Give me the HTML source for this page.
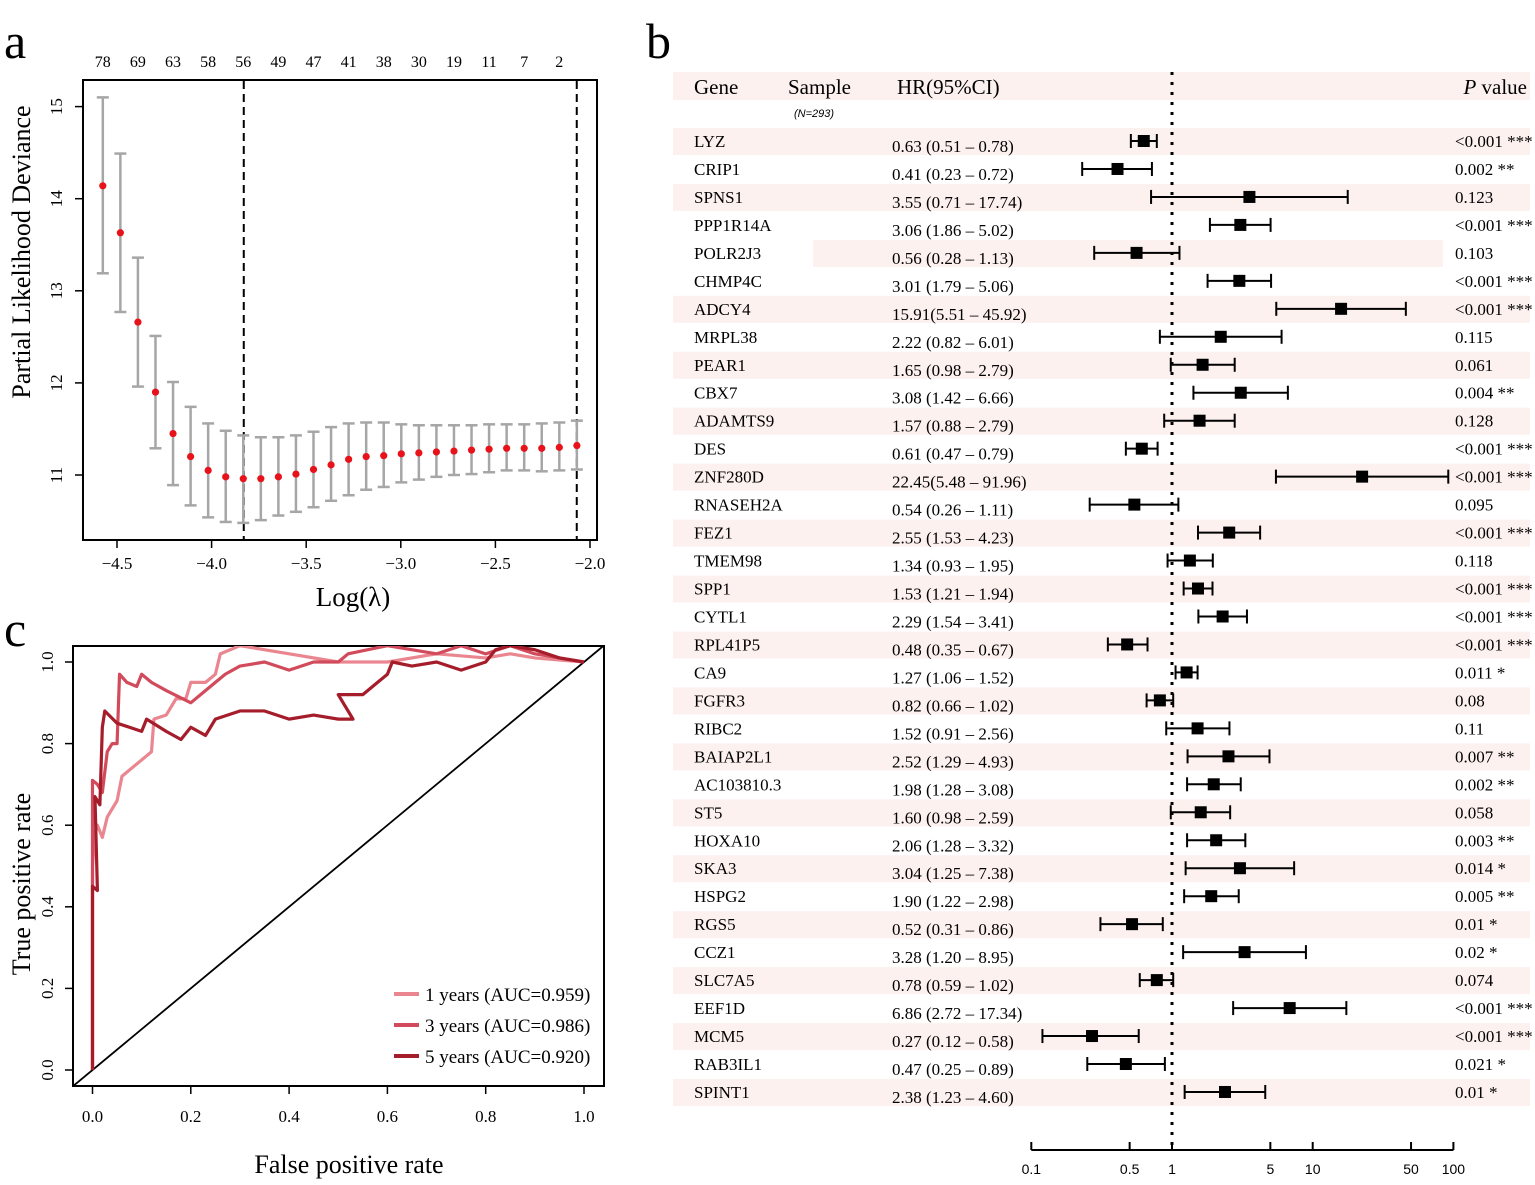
<!DOCTYPE html>
<html><head><meta charset="utf-8"><style>
html,body{margin:0;padding:0;background:#fff;}
svg{display:block;font-family:"Liberation Serif",serif;}
</style></head><body>
<svg id="fig" width="1535" height="1185" viewBox="0 0 1535 1185" xmlns="http://www.w3.org/2000/svg">
<text x="4" y="58" font-size="50">a</text>
<text x="646" y="58" font-size="50">b</text>
<text x="4" y="646" font-size="50">c</text>
<g id="pa"></g>
<g id="pc"></g>
<g id="pb"></g>
</svg>
<script>
// ---------- Panel a data ----------
const lambdaStart = -4.575, lambdaStep = 0.0928;
const devMean = [14.14,13.63,12.66,11.90,11.45,11.20,11.05,10.98,10.96,10.96,10.98,11.01,11.06,11.11,11.17,11.20,11.21,11.23,11.24,11.25,11.26,11.27,11.28,11.29,11.29,11.29,11.30,11.32];
const devUpper = [15.10,14.49,13.36,12.51,12.01,11.74,11.56,11.48,11.43,11.41,11.41,11.43,11.47,11.52,11.56,11.57,11.57,11.55,11.54,11.54,11.54,11.54,11.55,11.55,11.55,11.56,11.57,11.59];
const devLower = [13.19,12.77,11.96,11.29,10.89,10.67,10.54,10.49,10.48,10.51,10.56,10.60,10.65,10.72,10.78,10.84,10.87,10.92,10.95,10.98,11.00,11.01,11.03,11.05,11.05,11.04,11.05,11.06];
const nonzeroLabels = ["78","69","63","58","56","49","47","41","38","30","19","11","7","2"];
const xTicksA = [-4.5,-4.0,-3.5,-3.0,-2.5,-2.0];
const yTicksA = [11,12,13,14,15];
const vlinesA = [-3.83,-2.07];

// ---------- Panel c data ----------
const roc1 = [[0,0],[0,0.5],[0.005,0.58],[0.01,0.6],[0.02,0.57],[0.03,0.62],[0.04,0.64],[0.05,0.66],[0.06,0.72],[0.08,0.74],[0.1,0.76],[0.12,0.78],[0.125,0.86],[0.15,0.87],[0.17,0.91],[0.19,0.91],[0.2,0.95],[0.23,0.95],[0.25,0.97],[0.26,1.02],[0.3,1.04],[0.4,1.02],[0.5,1.0],[0.6,1.0],[0.7,1.02],[0.8,1.01],[0.85,1.02],[0.9,1.01],[1,1]];
const roc3 = [[0,0],[0,0.71],[0.01,0.7],[0.02,0.68],[0.03,0.78],[0.04,0.8],[0.05,0.8],[0.055,0.97],[0.07,0.95],[0.09,0.94],[0.1,0.97],[0.12,0.95],[0.15,0.93],[0.2,0.9],[0.22,0.92],[0.25,0.95],[0.27,0.97],[0.3,0.99],[0.35,1.0],[0.4,0.98],[0.45,1.0],[0.5,1.0],[0.52,1.02],[0.6,1.04],[0.7,1.02],[0.75,1.04],[0.8,1.02],[0.85,1.04],[0.9,1.02],[1,1]];
const roc5 = [[0,0],[0,0.45],[0.01,0.44],[0.005,0.67],[0.015,0.65],[0.02,0.84],[0.025,0.88],[0.05,0.85],[0.1,0.83],[0.11,0.86],[0.15,0.83],[0.18,0.81],[0.2,0.84],[0.23,0.82],[0.25,0.86],[0.3,0.88],[0.35,0.88],[0.4,0.86],[0.45,0.87],[0.5,0.86],[0.53,0.86],[0.5,0.92],[0.55,0.92],[0.58,0.95],[0.6,0.97],[0.61,1.0],[0.65,0.99],[0.7,1.0],[0.75,0.98],[0.8,1.0],[0.82,1.03],[0.85,1.04],[0.9,1.03],[0.95,1.01],[1,1]];
const rocLabels = ["1 years (AUC=0.959)","3 years (AUC=0.986)","5 years (AUC=0.920)"];
const rocTicks = [0,0.2,0.4,0.6,0.8,1.0];

// ---------- Panel b data ----------
const genes = ["LYZ","CRIP1","SPNS1","PPP1R14A","POLR2J3","CHMP4C","ADCY4","MRPL38","PEAR1","CBX7","ADAMTS9","DES","ZNF280D","RNASEH2A","FEZ1","TMEM98","SPP1","CYTL1","RPL41P5","CA9","FGFR3","RIBC2","BAIAP2L1","AC103810.3","ST5","HOXA10","SKA3","HSPG2","RGS5","CCZ1","SLC7A5","EEF1D","MCM5","RAB3IL1","SPINT1"];
const hr = [0.63,0.41,3.55,3.06,0.56,3.01,15.91,2.22,1.65,3.08,1.57,0.61,22.45,0.54,2.55,1.34,1.53,2.29,0.48,1.27,0.82,1.52,2.52,1.98,1.60,2.06,3.04,1.90,0.52,3.28,0.78,6.86,0.27,0.47,2.38];
const ciLow = [0.51,0.23,0.71,1.86,0.28,1.79,5.51,0.82,0.98,1.42,0.88,0.47,5.48,0.26,1.53,0.93,1.21,1.54,0.35,1.06,0.66,0.91,1.29,1.28,0.98,1.28,1.25,1.22,0.31,1.20,0.59,2.72,0.12,0.25,1.23];
const ciHigh = [0.78,0.72,17.74,5.02,1.13,5.06,45.92,6.01,2.79,6.66,2.79,0.79,91.96,1.11,4.23,1.95,1.94,3.41,0.67,1.52,1.02,2.56,4.93,3.08,2.59,3.32,7.38,2.98,0.86,8.95,1.02,17.34,0.58,0.89,4.60];
const pText = ["<0.001 ***","0.002 **","0.123","<0.001 ***","0.103","<0.001 ***","<0.001 ***","0.115","0.061","0.004 **","0.128","<0.001 ***","<0.001 ***","0.095","<0.001 ***","0.118","<0.001 ***","<0.001 ***","<0.001 ***","0.011 *","0.08","0.11","0.007 **","0.002 **","0.058","0.003 **","0.014 *","0.005 **","0.01 *","0.02 *","0.074","<0.001 ***","<0.001 ***","0.021 *","0.01 *"];
const hrTicks = [0.1,0.5,1,5,10,50,100];
const hrTickLabels = ["0.1","0.5","1","5","10","50","100"];

const NS="http://www.w3.org/2000/svg";
function mk(parent,tag,attrs,text){const e=document.createElementNS(NS,tag);for(const k in attrs)e.setAttribute(k,attrs[k]);if(text!==undefined)e.textContent=text;parent.appendChild(e);return e;}
function fmt(v){return (v<0?"\u2212":"")+Math.abs(v).toFixed(1);}

// ===== Panel a =====
(function(){
const g=document.getElementById('pa');
const X=v=>117+(v+4.5)*189.2, Y=v=>475-(v-11)*92.1;
let e=mk(g,'rect',{x:83,y:80,width:514,height:460,fill:'none',stroke:'#000','stroke-width':2});


xTicksA.forEach(t=>{
 let l=mk(g,'line',{x1:X(t),x2:X(t),y1:540,y2:548,stroke:'#000','stroke-width':1.5});
 
 
 let s=mk(g,'text',{x:X(t),y:569,'font-size':17,'text-anchor':'middle'},fmt(t));
 
 
});
yTicksA.forEach(t=>{
 let l=mk(g,'line',{x1:83,x2:75,y1:Y(t),y2:Y(t),stroke:'#000','stroke-width':1.5});
 
 
 let s=mk(g,'text',{x:0,y:0,'font-size':17,'text-anchor':'middle',transform:`translate(62,${Y(t)}) rotate(-90)`},String(t));
 
 
});
vlinesA.forEach(v=>{
 let l=mk(g,'line',{x1:X(v),x2:X(v),y1:81,y2:539,stroke:'#000','stroke-width':2,'stroke-dasharray':'8,5'});
 
 
});
devMean.forEach((m,i)=>{
 const x=X(lambdaStart+i*lambdaStep);
 const gg=mk(g,'g',{});
 
 
 mk(gg,'line',{x1:x,x2:x,y1:Y(devUpper[i]),y2:Y(devLower[i]),stroke:'#a6a6a6','stroke-width':2.5});
 mk(gg,'line',{x1:x-6,x2:x+6,y1:Y(devUpper[i]),y2:Y(devUpper[i]),stroke:'#a6a6a6','stroke-width':2.5});
 mk(gg,'line',{x1:x-6,x2:x+6,y1:Y(devLower[i]),y2:Y(devLower[i]),stroke:'#a6a6a6','stroke-width':2.5});
 let c=mk(g,'circle',{cx:x,cy:Y(m),r:3.6,fill:'#e8121a'});
 
 
});
nonzeroLabels.forEach((s,i)=>{
 let t=mk(g,'text',{x:X(lambdaStart+2*i*lambdaStep),y:67,'font-size':16,'text-anchor':'middle'},s);
 
 
});
let xl=mk(g,'text',{x:353,y:606,'font-size':27,'text-anchor':'middle'},"Log(\u03bb)");


let yl=mk(g,'text',{x:0,y:0,'font-size':26,'text-anchor':'middle',transform:'translate(30,252) rotate(-90)'},"Partial Likelihood Deviance");


})();

// ===== Panel c =====
(function(){
const g=document.getElementById('pc');
const X=v=>92.5+v*491.5, Y=v=>1070-v*408;
let cp=mk(g,'clipPath',{id:'rocclip'});mk(cp,'rect',{x:73,y:646,width:531,height:440});
let fr=mk(g,'rect',{x:73,y:646,width:531,height:440,fill:'none',stroke:'#000','stroke-width':2});


rocTicks.forEach(t=>{
 let l=mk(g,'line',{x1:X(t),x2:X(t),y1:1086,y2:1094,stroke:'#000','stroke-width':1.5});
 
 
 let s=mk(g,'text',{x:X(t),y:1122,'font-size':17,'text-anchor':'middle'},t.toFixed(1));
 
 
 let l2=mk(g,'line',{x1:73,x2:65,y1:Y(t),y2:Y(t),stroke:'#000','stroke-width':1.5});
 
 
 let s2=mk(g,'text',{x:0,y:0,'font-size':17,'text-anchor':'middle',transform:`translate(53,${Y(t)}) rotate(-90)`},t.toFixed(1));
 
 
});
const cg=mk(g,'g',{'clip-path':'url(#rocclip)'});
let d=mk(cg,'line',{x1:X(-0.1),y1:Y(-0.1),x2:X(1.2),y2:Y(1.2),stroke:'#000','stroke-width':1.8});


const cols=['#ea8690','#d24b5c','#a51c2b'];
const names=['roc-curve-1-year','roc-curve-3-years','roc-curve-5-years'];
[roc1,roc3,roc5].forEach((arr,k)=>{
 let p=mk(cg,'polyline',{points:arr.map(q=>X(q[0])+','+Y(q[1])).join(' '),fill:'none',stroke:cols[k],'stroke-width':3.2,'stroke-linejoin':'round'});
 
 
});
rocLabels.forEach((s,k)=>{
 const y=994+k*31;
 const lg=mk(g,'g',{});
 
 
 mk(lg,'line',{x1:394,x2:419,y1:y,y2:y,stroke:cols[k],'stroke-width':4});
 mk(lg,'text',{x:425,y:y+7,'font-size':19},s);
});
let xl=mk(g,'text',{x:349,y:1173,'font-size':26,'text-anchor':'middle'},"False positive rate");


let yl=mk(g,'text',{x:0,y:0,'font-size':26,'text-anchor':'middle',transform:'translate(30,884) rotate(-90)'},"True positive rate");


})();

// ===== Panel b =====
(function(){
const g=document.getElementById('pb');
const X=v=>1172+Math.log10(v)*140.7;
const rowY=i=>141+i*27.97;
const shade='#fcf1ef';
let hb=mk(g,'rect',{x:673,y:72,width:857,height:28,fill:shade});


genes.forEach((gn,i)=>{
 if(i%2===0 && i!==4){
  let r=mk(g,'rect',{x:673,y:rowY(i)-13,width:857,height:27,fill:shade});
  
  
 }
});
let pr=mk(g,'rect',{x:813,y:rowY(4)-13,width:630,height:27,fill:shade});


const hdr=[["Gene",694],["Sample",788],["HR(95%CI)",897]];
hdr.forEach(h=>{
 let t=mk(g,'text',{x:h[1],y:94,'font-size':21},h[0]);
 
 
});
let pv=mk(g,'text',{x:1527,y:94,'font-size':21,'text-anchor':'end'});


mk(pv,'tspan',{'font-style':'italic'},'P');mk(pv,'tspan',{},' value');
let nn=mk(g,'text',{x:794,y:117,'font-size':11,'font-style':'italic','font-family':'Liberation Sans, sans-serif'},"(N=293)");


let ref=mk(g,'line',{x1:X(1),x2:X(1),y1:72,y2:1146,stroke:'#000','stroke-width':3,'stroke-dasharray':'3,7'});


genes.forEach((gn,i)=>{
 const y=rowY(i);
 let t=mk(g,'text',{x:694,y:y+6,'font-size':17},gn);
 
 
 const hs=hr[i]>=10?hr[i].toFixed(2)+"("+ciLow[i].toFixed(2)+" \u2013 "+ciHigh[i].toFixed(2)+")":hr[i].toFixed(2)+" ("+ciLow[i].toFixed(2)+" \u2013  "+ciHigh[i].toFixed(2)+")";
 let h=mk(g,'text',{x:892,y:y+11,'font-size':17,'xml:space':'preserve'},hs);
 
 
 let p=mk(g,'text',{x:1455,y:y+6,'font-size':17},pText[i]);
 
 
 const mg=mk(g,'g',{});
 
 
 mk(mg,'line',{x1:X(ciLow[i]),x2:X(ciHigh[i]),y1:y,y2:y,stroke:'#000','stroke-width':2});
 mk(mg,'line',{x1:X(ciLow[i]),x2:X(ciLow[i]),y1:y-7,y2:y+7,stroke:'#000','stroke-width':2});
 mk(mg,'line',{x1:X(ciHigh[i]),x2:X(ciHigh[i]),y1:y-7,y2:y+7,stroke:'#000','stroke-width':2});
 mk(mg,'rect',{x:X(hr[i])-6,y:y-6,width:12,height:12,fill:'#000'});
});
let ax=mk(g,'line',{x1:X(0.1),x2:X(100),y1:1150,y2:1150,stroke:'#000','stroke-width':2});


hrTicks.forEach((t,k)=>{
 let l=mk(g,'line',{x1:X(t),x2:X(t),y1:1150,y2:1142,stroke:'#000','stroke-width':2});
 
 
 let s=mk(g,'text',{x:X(t),y:1174,'font-size':14,'text-anchor':'middle','font-family':'Liberation Sans, sans-serif'},hrTickLabels[k]);
 
 
});
})();
</script>
</body></html>
